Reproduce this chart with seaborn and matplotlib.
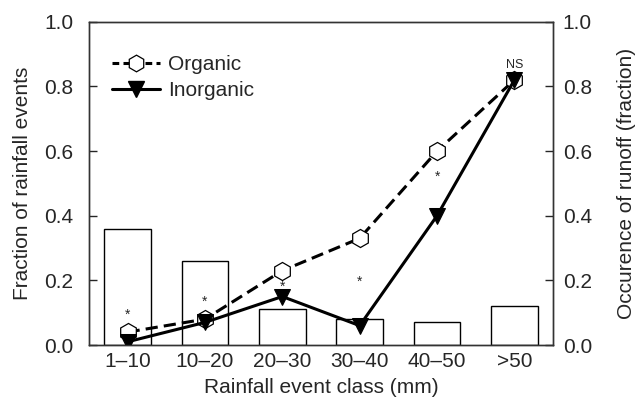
import matplotlib
matplotlib.use("Agg")
import pandas as pd
import seaborn as sns
import matplotlib.pyplot as plt
from matplotlib.lines import Line2D

classes = ["1\u201310", "10\u201320", "20\u201330", "30\u201340", "40\u201350", ">50"]
rain_fraction = [0.36, 0.26, 0.11, 0.08, 0.07, 0.12]
organic = [0.04, 0.08, 0.23, 0.33, 0.60, 0.82]
inorganic = [0.01, 0.07, 0.15, 0.06, 0.40, 0.82]
sig_labels = ["*", "*", "*", "*", "*", "NS"]
sig_y = [0.095, 0.135, 0.18, 0.195, 0.52, 0.865]

sns.set_style("ticks")
plt.rcParams["font.family"] = ["Liberation Sans", "DejaVu Sans"]

bars = pd.DataFrame({"cls": classes, "frac": rain_fraction})
runoff = pd.DataFrame({"cls": classes * 2,
                       "val": organic + inorganic,
                       "trt": ["Organic"] * 6 + ["Inorganic"] * 6})

fig = plt.figure(figsize=(6.35, 4.04), dpi=100)
ax = fig.add_axes([0.140, 0.146, 0.731, 0.800])

sns.barplot(data=bars, x="cls", y="frac", color="white", edgecolor="black",
            linewidth=1.0, width=0.6, ax=ax, zorder=1)

ax2 = ax.twinx()
org = runoff[runoff["trt"] == "Organic"]
ino = runoff[runoff["trt"] == "Inorganic"]
sns.lineplot(data=org, x="cls", y="val", color="black", linestyle=(0, (4, 2)),
             linewidth=2.2, marker="h", markersize=13, markerfacecolor="white",
             markeredgecolor="black", markeredgewidth=0.9, ax=ax2, sort=False)
sns.lineplot(data=ino, x="cls", y="val", color="black", linewidth=2.2,
             marker="v", markersize=12, markerfacecolor="black",
             markeredgecolor="black", ax=ax2, sort=False)

for i, (lab, yy) in enumerate(zip(sig_labels, sig_y)):
    ax2.text(i, yy, lab, ha="center", va="center",
             fontsize=10 if lab == "*" else 9)

for a in (ax, ax2):
    a.set_ylim(0, 1.0)
    a.set_yticks([0, 0.2, 0.4, 0.6, 0.8, 1.0])
    a.set_yticklabels(["0.0", "0.2", "0.4", "0.6", "0.8", "1.0"])
    a.tick_params(axis="y", direction="in", length=6, width=1, labelsize=15)
    for s in a.spines.values():
        s.set_linewidth(1.0)
        s.set_color("#333333")
    a.set_xlim(-0.5, 5.5)

ax.tick_params(axis="y", pad=11)
ax2.tick_params(axis="y", pad=7)
ax.tick_params(axis="x", length=0, pad=5, labelsize=15)

ax.set_xlabel("Rainfall event class (mm)", fontsize=15)
ax.set_ylabel("Fraction of rainfall events", fontsize=15)
ax2.set_ylabel("Occurence of runoff (fraction)", fontsize=15)
ax2.set_xlabel("")
ax.yaxis.set_label_coords(-0.122, 0.5)
ax2.yaxis.set_label_coords(1.138, 0.5)
ax.xaxis.set_label_coords(0.5, -0.103)

handles = [
    Line2D([], [], color="black", linestyle=(0, (2.2, 1.4)), linewidth=2.2,
           marker="h", markersize=12, markerfacecolor="white",
           markeredgecolor="black", markeredgewidth=0.9),
    Line2D([], [], color="black", linewidth=2.2, marker="v", markersize=11,
           markerfacecolor="black"),
]
ax2.legend(handles, ["Organic", "Inorganic"], loc="upper left",
           bbox_to_anchor=(0.05, 0.897), frameon=False, fontsize=15,
           handlelength=2.3, handletextpad=0.4, labelspacing=0.35,
           borderaxespad=0.0, borderpad=0.0)

fig.savefig("out.png", dpi=100)
